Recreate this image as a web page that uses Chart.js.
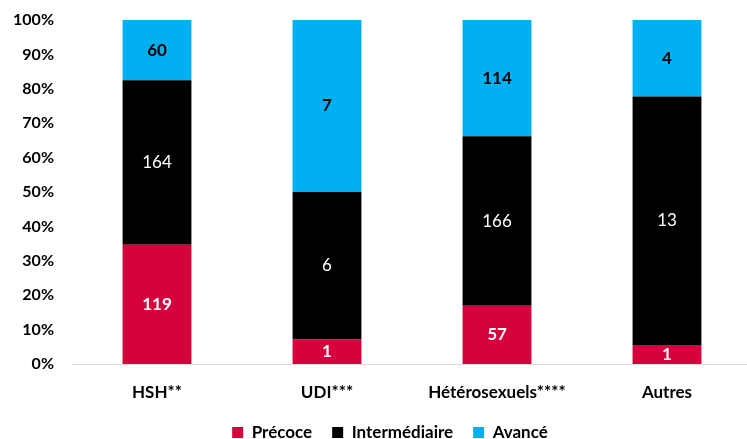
<!DOCTYPE html>
<html>
<head>
<meta charset="utf-8">
<script src="https://cdn.jsdelivr.net/npm/chart.js@4"></script>
<style>
body{margin:0;background:#fff;}
#wrap{width:747px;height:439px;overflow:hidden;}
</style>
</head>
<body>
<div id="wrap">
<canvas id="stadeChart" width="752" height="439"></canvas>
</div>
<script>

const categories = ["HSH**", "UDI***", "Hétérosexuels****", "Autres"];

const precoce = [119, 1, 57, 1];
const intermediaire = [164, 6, 166, 13];
const avance = [60, 7, 114, 4];

const yTicks = [0, 10, 20, 30, 40, 50, 60, 70, 80, 90, 100];

const totals = categories.map((c, i) =>
    precoce[i] + intermediaire[i] + avance[i]
);

function toPct(arr){

    return arr.map((v, i) => v / totals[i] * 100);
}

const FONT = "Lato";

const barLabels = {

    id: "barLabels",

    afterDatasetsDraw(chart){

        const ctx = chart.ctx;

        chart.data.datasets.forEach((ds, di) => {

            const meta = chart.getDatasetMeta(di);

            meta.data.forEach((bar, i) => {

                ctx.save();
                ctx.font = ds.labelWeight + " 17px " + FONT;
                ctx.fillStyle = ds.labelColor;
                ctx.textAlign = "center";
                ctx.textBaseline = "middle";
                ctx.fillText(
                    ds.counts[i],
                    bar.x,
                    (bar.y + bar.base) / 2
                );
                ctx.restore();
            });
        });
    }
};

const moveLegend = {

    id: "moveLegend",

    afterLayout(chart){

        const lg = chart.legend;

        lg.left += 14;
        lg.right += 14;
    }
};

const ctx = document.getElementById("stadeChart");

new Chart(ctx, {

    type: "bar",

    data: {

        labels: categories,

        datasets: [
            {
                label: "Précoce",
                data: toPct(precoce),
                counts: precoce,
                backgroundColor: "#D6003C",
                labelColor: "#ffffff",
                labelWeight: "bold"
            },
            {
                label: "Intermédiaire",
                data: toPct(intermediaire),
                counts: intermediaire,
                backgroundColor: "#000000",
                labelColor: "#ffffff",
                labelWeight: "normal"
            },
            {
                label: "Avancé",
                data: toPct(avance),
                counts: avance,
                backgroundColor: "#00B0F0",
                labelColor: "#000000",
                labelWeight: "bold"
            }
        ]
    },

    options: {

        responsive: false,
        animation: false,

        layout: {
            padding: {top: 20, right: 0, bottom: -12, left: 0}
        },

        datasets: {
            bar: {
                categoryPercentage: 1,
                barPercentage: 0.405
            }
        },

        plugins: {

            tooltip: {enabled: false},

            legend: {
                position: "bottom",
                labels: {
                    boxWidth: 11,
                    boxHeight: 11,
                    padding: 20,
                    color: "#000",
                    font: {family: FONT, size: 17, weight: "bold"}
                }
            }
        },

        scales: {

            x: {
                stacked: true,
                grid: {display: false, drawTicks: false},
                border: {display: true, color: "#d9d9d9", width: 1},
                ticks: {
                    padding: 18,
                    color: "#000",
                    font: {family: FONT, size: 17, weight: "bold"}
                },
                afterFit(scale){
                    scale.height = 40;
                }
            },

            y: {
                stacked: true,
                min: 0,
                max: 100,
                grid: {display: false, drawTicks: false},
                border: {display: false},
                afterBuildTicks(scale){
                    scale.ticks = yTicks.map(v => ({value: v}));
                },
                ticks: {
                    padding: 18,
                    color: "#000",
                    font: {family: FONT, size: 16, weight: "bold"},
                    callback: (v) => v + "%"
                },
                afterFit(scale){
                    scale.width = 72;
                    scale.paddingTop = 10;
                }
            }
        }
    },

    plugins: [barLabels, moveLegend]
});
</script>
</body>
</html>
